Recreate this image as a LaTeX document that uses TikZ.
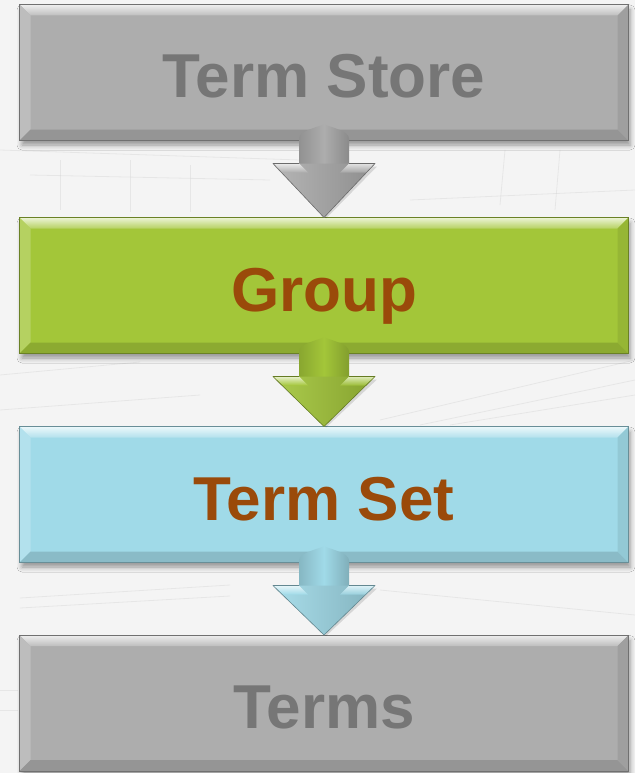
\documentclass[tikz,border=0pt]{standalone}
\usepackage{fontspec}
\setmainfont{Liberation Sans}
\usetikzlibrary{calc,shadows.blur}

\definecolor{pagebg}{HTML}{F4F4F4}
\definecolor{sketch}{HTML}{D6D6D6}
\definecolor{boxgray}{HTML}{ADADAD}
\definecolor{boxgreen}{HTML}{A3C639}
\definecolor{boxblue}{HTML}{A0DAE8}
\definecolor{textgray}{HTML}{767676}
\definecolor{textbrown}{HTML}{9A4A0A}

\tikzset{
  flowbox/.style={rectangle, minimum width=608pt, minimum height=135pt,
    inner sep=0pt, line width=1pt,
    font=\fontsize{62}{62}\selectfont\bfseries,
    text height=51pt, text depth=0pt,
    blur shadow={shadow xshift=2pt, shadow yshift=-5pt,
      shadow blur radius=5pt, shadow opacity=40}},
  sketchline/.style={draw=sketch, line width=0.8pt, opacity=0.45},
}

% bevelled edges of a box: light top and left, darker bottom and right
\newcommand\bevelbox[2]{%
  \shade[top color=#2!20!white, bottom color=#2!80!white]
    (#1.north west) -- (#1.north east)
    -- ([xshift=-11pt,yshift=-11pt]#1.north east)
    -- ([xshift=11pt,yshift=-11pt]#1.north west) -- cycle;
  \fill[#2!80!white]
    (#1.north west) -- ([xshift=11pt,yshift=-11pt]#1.north west)
    -- ([xshift=11pt,yshift=11pt]#1.south west) -- (#1.south west) -- cycle;
  \fill[#2!86!black]
    (#1.south west) -- (#1.south east)
    -- ([xshift=-11pt,yshift=11pt]#1.south east)
    -- ([xshift=11pt,yshift=11pt]#1.south west) -- cycle;
  \fill[#2!92!black]
    (#1.north east) -- (#1.south east)
    -- ([xshift=-11pt,yshift=11pt]#1.south east)
    -- ([xshift=-11pt,yshift=-11pt]#1.north east) -- cycle;
  \draw[#2!65!black, line width=0.8pt]
    (#1.north west) rectangle (#1.south east);
}

% block arrow from the bottom of box #1 to the top of box #2, colour #3
\newcommand\blockarrow[3]{%
  \begin{scope}[shift={(#1.south)}]
    % soft shadow of the head
    \fill[black, opacity=0.12] (-49,26) -- (53,26) -- ($(#2.north)+(2pt,-1pt)$) -- cycle;
    % shaft with a pointed dome on top
    \shade[left color=#3!84!black, right color=#3!80!black, middle color=#3]
      (-25,24) -- (-25,-2) .. controls (-25,-9) and (-9,-13) .. (0,-16)
      .. controls (9,-13) and (25,-9) .. (25,-2) -- (25,24) -- cycle;
    % head
    \shade[left color=#3!90!white, right color=#3!82!black]
      (-51,23) -- (51,23) -- (#2.north) -- cycle;
    % lit upper faces of the wings
    \shade[top color=#3!25!white, bottom color=#3]
      (-51,23) -- (-25,23) -- (-16,32) -- (-42,32) -- cycle;
    \shade[top color=#3!35!white, bottom color=#3!95!black]
      (51,23) -- (25,23) -- (16,32) -- (42,32) -- cycle;
    \draw[#3!62!black, line width=0.6pt, line join=round]
      (-25,23) -- (-51,23) -- (#2.north) -- (51,23) -- (25,23);
  \end{scope}
}

\begin{document}
\begin{tikzpicture}[x=1pt, y=-1pt]
  \useasboundingbox (0,0) rectangle (635,773);
  \fill[pagebg] (0,0) rectangle (635,773);

  % faint sketched paperwork behind the chart
  \draw[sketchline] (0,150) -- (300,160);
  \draw[sketchline] (30,175) -- (270,180);
  \draw[sketchline] (60,160) -- (60,210);
  \draw[sketchline] (130,160) -- (130,212);
  \draw[sketchline] (190,165) -- (190,212);
  \draw[sketchline] (505,150) -- (500,205);
  \draw[sketchline] (560,150) -- (555,210);
  \draw[sketchline] (410,200) -- (635,190);
  \draw[sketchline] (380,420) -- (635,360);
  \draw[sketchline] (420,425) -- (635,380);
  \draw[sketchline] (450,425) -- (635,395);
  \draw[sketchline] (0,375) -- (140,362);
  \draw[sketchline] (0,410) -- (200,395);
  \draw[sketchline] (20,598) -- (230,585);
  \draw[sketchline] (20,608) -- (230,596);
  \draw[sketchline] (380,590) -- (635,615);
  \draw[sketchline] (0,690) -- (18,690);
  \draw[sketchline] (0,710) -- (18,710);

  % the four levels
  \node[flowbox, fill=boxgray, text=textgray] (store) at (324,72.5) {Term Store};
  \bevelbox{store}{boxgray}
  \node[flowbox, fill=boxgreen, text=textbrown] (group) at (324,285.5) {Group};
  \bevelbox{group}{boxgreen}
  \node[flowbox, fill=boxblue, text=textbrown] (termset) at (324,494.5) {Term Set};
  \bevelbox{termset}{boxblue}
  \node[flowbox, fill=boxgray, text=textgray] (terms) at (324,703) {Terms};
  \bevelbox{terms}{boxgray}

  % arrows between the levels
  \blockarrow{store}{group}{boxgray}
  \blockarrow{group}{termset}{boxgreen}
  \blockarrow{termset}{terms}{boxblue}
\end{tikzpicture}
\end{document}
